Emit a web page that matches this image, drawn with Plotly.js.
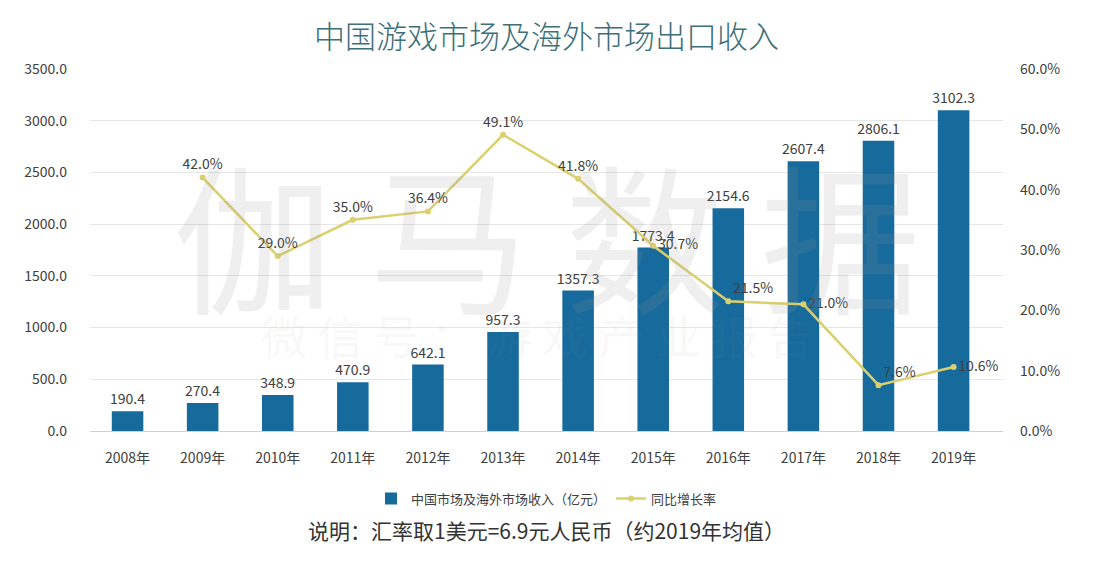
<!DOCTYPE html>
<html>
<head>
<meta charset="utf-8">
<script src="https://cdn.plot.ly/plotly-3.0.1.min.js"></script>
<style>html,body{margin:0;padding:0;background:#fff;}#chart{width:1107px;height:564px;}</style>
</head>
<body>
<div id="chart"></div>
<script>
const years = ['2008年','2009年','2010年','2011年','2012年','2013年','2014年','2015年','2016年','2017年','2018年','2019年'];
const revenue = [190.4, 270.4, 348.9, 470.9, 642.1, 957.3, 1357.3, 1773.4, 2154.6, 2607.4, 2806.1, 3102.3];
const growthYears = ['2009年','2010年','2011年','2012年','2013年','2014年','2015年','2016年','2017年','2018年','2019年'];
const growth = [0.420, 0.290, 0.350, 0.364, 0.491, 0.418, 0.307, 0.215, 0.210, 0.076, 0.106];
const leftTicks = [0, 500, 1000, 1500, 2000, 2500, 3000, 3500];
const rightTicks = [0, 0.1, 0.2, 0.3, 0.4, 0.5, 0.6];
const barName = '中国市场及海外市场收入（亿元）';
const lineName = '同比增长率';
const titleText = '中国游戏市场及海外市场出口收入';
const noteText = '说明：汇率取1美元=6.9元人民币（约2019年均值）';

const FONT = '"Noto Sans CJK SC", "Open Sans", sans-serif';
const labelPos = ['top center','top center','top center','top center','top center','top center',
                  'middle right','top right','middle right','top right','middle right'];

const traces = [
  {
    type: 'bar', x: years, y: revenue, name: barName,
    marker: {color: '#176a9c'}, width: 0.42,
    text: revenue.map(v => v.toFixed(1)), textposition: 'outside', constraintext: 'none',
    textfont: {size: 14, color: '#404040', family: FONT},
    cliponaxis: false, hoverinfo: 'x+y'
  },
  {
    type: 'scatter', x: growthYears, y: growth, name: lineName, yaxis: 'y2',
    mode: 'lines+markers+text',
    line: {color: '#dccf6e', width: 2.5},
    marker: {color: '#dccf6e', size: 6},
    text: growth.map(v => (v*100).toFixed(1) + '%'),
    textposition: labelPos,
    textfont: {size: 14, color: '#404040', family: FONT},
    cliponaxis: false
  }
];

const layout = {
  width: 1107, height: 564,
  margin: {l: 90, r: 104, t: 69, b: 133},
  paper_bgcolor: '#ffffff', plot_bgcolor: '#ffffff',
  font: {family: FONT, color: '#404040', size: 14},
  title: {text: titleText, x: 0.5, xanchor: 'center', xref: 'paper', yref: 'container', y: 0.935, yanchor: 'middle',
          font: {size: 31, color: '#3d6f79', family: FONT, weight: 300}},
  showlegend: true,
  legend: {orientation: 'h', x: 0.5, xanchor: 'center', y: -0.145, yanchor: 'top',
           font: {size: 13, color: '#404040'}, tracegroupgap: 0},
  xaxis: {
    type: 'category', showgrid: false, showline: true, linecolor: '#d0d0d0', linewidth: 1,
    ticks: '', tickfont: {size: 14, color: '#404040'}, ticklabelstandoff: 14, zeroline: false
  },
  yaxis: {
    range: [0, 3500], tickvals: leftTicks, tickformat: '.1f',
    showgrid: true, gridcolor: '#e6e6e6', gridwidth: 1, zeroline: false, showline: false,
    tickfont: {size: 14, color: '#404040'}, ticklabelstandoff: 22
  },
  yaxis2: {
    range: [0, 0.6], tickvals: rightTicks, tickformat: '.1%', overlaying: 'y', side: 'right',
    showgrid: false, zeroline: false, showline: false,
    tickfont: {size: 14, color: '#404040'}, ticklabelstandoff: 16
  },
  annotations: [
    {text: '伽 马 数 据', xref: 'paper', yref: 'paper', x: 0.5, y: 0.55, showarrow: false,
     font: {size: 160, color: 'rgba(150,150,150,0.15)', family: FONT}},
    {text: '微 信 号 ： 游 戏 产 业 报 告', xref: 'paper', yref: 'paper', x: 0.49, y: 0.17, showarrow: false,
     font: {size: 46, color: 'rgba(150,150,150,0.08)', family: FONT}},
    {text: noteText, xref: 'paper', yref: 'paper', x: 0.5, y: -0.273, yanchor: 'middle', showarrow: false,
     font: {size: 21, color: '#333333', family: FONT}}
  ]
};

Plotly.newPlot('chart', traces, layout, {displayModeBar: false, staticPlot: true});
</script>
</body>
</html>
